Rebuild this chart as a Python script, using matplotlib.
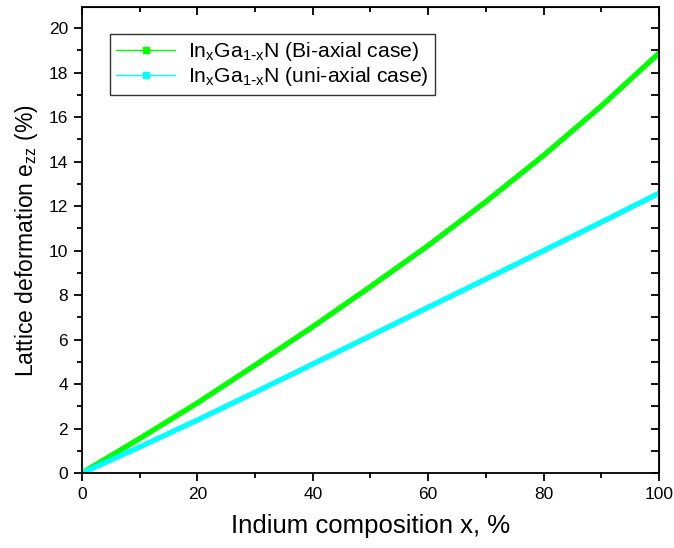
import matplotlib
matplotlib.use("Agg")
import matplotlib.pyplot as plt
from matplotlib.lines import Line2D
from matplotlib.ticker import MultipleLocator

plt.rcParams['font.family'] = ['Liberation Sans', 'DejaVu Sans']
plt.rcParams['mathtext.default'] = 'regular'

# ===========================
# data
# ===========================
indium = [0, 10, 20, 30, 40, 50, 60, 70, 80, 90, 100]
biaxial = [0, 1.55, 3.15, 4.85, 6.58, 8.38, 10.23, 12.2, 14.28, 16.5, 18.88]
uniaxial = [0, 1.17, 2.38, 3.63, 4.9, 6.17, 7.45, 8.72, 10.0, 11.28, 12.58]

green = '#00ff00'
cyan = '#00ffff'

fig = plt.figure(figsize=(6.74, 5.48), dpi=100)
ax = fig.add_axes([0.1217, 0.1369, 0.856, 0.8501])

ax.plot(indium, biaxial, color=green, lw=3.8)
ax.plot(indium, uniaxial, color=cyan, lw=3.8)

ax.set_xlim(0, 100)
ax.set_ylim(0, 20.95)
ax.xaxis.set_major_locator(MultipleLocator(20))
ax.xaxis.set_minor_locator(MultipleLocator(10))
ax.yaxis.set_major_locator(MultipleLocator(2))
ax.yaxis.set_minor_locator(MultipleLocator(1))
ax.tick_params(which='major', direction='out', length=6, width=1.3, labelsize=12.5, pad=4)
ax.tick_params(which='minor', direction='out', length=3.5, width=1.3)
for s in ax.spines.values():
    s.set_linewidth(1.3)

# inward ticks on the top and right
top = ax.secondary_xaxis('top')
top.xaxis.set_major_locator(MultipleLocator(20))
top.xaxis.set_minor_locator(MultipleLocator(10))
top.tick_params(which='both', direction='in', labeltop=False, width=1.3)
top.tick_params(which='major', length=6)
top.tick_params(which='minor', length=3.5)
right = ax.secondary_yaxis('right')
right.yaxis.set_major_locator(MultipleLocator(2))
right.yaxis.set_minor_locator(MultipleLocator(1))
right.tick_params(which='both', direction='in', labelright=False, width=1.3)
right.tick_params(which='major', length=6)
right.tick_params(which='minor', length=6)

ax.set_xlabel('Indium composition x, %', fontsize=18.5, labelpad=9)
ax.set_ylabel('Lattice deformation e$_{zz}$ (%)', fontsize=16.5, labelpad=6)

handles = [
    Line2D([], [], color=green, lw=1, marker='s', markersize=4),
    Line2D([], [], color=cyan, lw=1, marker='s', markersize=4),
]
labels = [r'In$_x$Ga$_{1\text{-}x}$N (Bi-axial case)',
          r'In$_x$Ga$_{1\text{-}x}$N (uni-axial case)']
leg = ax.legend(handles, labels, loc='upper left', bbox_to_anchor=(0.03, 0.965),
                fontsize=15.2, frameon=True, fancybox=False, edgecolor='black',
                handlelength=2.8, borderpad=0.3, labelspacing=0.1, handletextpad=0.6)
leg.get_frame().set_linewidth(1.0)

fig.savefig('out.png', dpi=100)
